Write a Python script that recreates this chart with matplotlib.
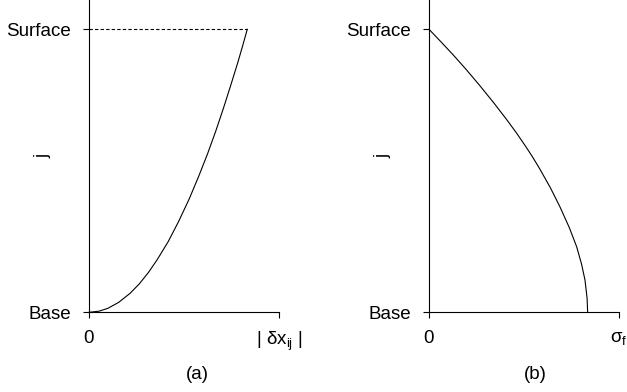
import matplotlib
matplotlib.use("Agg")
import matplotlib.pyplot as plt

plt.rcParams['font.family'] = ['Liberation Sans', 'DejaVu Sans']
plt.rcParams['mathtext.fontset'] = 'custom'
plt.rcParams['mathtext.rm'] = 'Liberation Sans'
plt.rcParams['mathtext.it'] = 'Liberation Sans'

# (a) displacement vs depth, x in units of the |dx_ij| tick
depth_a = [0, 0.004, 0.014, 0.035, 0.067, 0.10, 0.14, 0.185, 0.25, 0.32,
           0.40, 0.48, 0.56, 0.64, 0.72, 0.80, 0.88, 0.94, 1.0]
disp_a = [0, 0.053, 0.099, 0.156, 0.216, 0.264, 0.312, 0.358, 0.417, 0.471,
          0.527, 0.577, 0.624, 0.667, 0.707, 0.745, 0.782, 0.808, 0.833]

# (b) stress vs depth, x in units of the sigma_f tick
depth_b = [0, 0.05, 0.114, 0.17, 0.232, 0.30, 0.373, 0.44, 0.509, 0.55,
           0.59, 0.635, 0.679, 0.74, 0.803, 0.86, 0.909, 0.955, 1.0]
stress_b = [0.835, 0.832, 0.821, 0.803, 0.777, 0.738, 0.689, 0.639, 0.581,
            0.544, 0.505, 0.459, 0.411, 0.341, 0.265, 0.193, 0.128, 0.064, 0.0]

y_ticks = [0, 1]
y_labels = ['Base', 'Surface']
x_ticks = [0, 1]
xlabels_a = ['0', r'$|\ \mathrm{\delta x_{ij}}\ |$']
xlabels_b = ['0', r'$\mathrm{\sigma_f}$']

fig = plt.figure(figsize=(6.27, 3.92), dpi=100)
ax_a = fig.add_axes([89 / 627, 0.2033, 190 / 627, 0.7967])
ax_b = fig.add_axes([429 / 627, 0.2033, 190 / 627, 0.7967])

for ax, xl, panel, px in [(ax_a, xlabels_a, '(a)', 0.568), (ax_b, xlabels_b, '(b)', 0.558)]:
    ax.set_xlim(0, 1)
    ax.set_ylim(0, 1.1035)
    for s in ['top', 'right']:
        ax.spines[s].set_visible(False)
    for s in ['left', 'bottom']:
        ax.spines[s].set_linewidth(0.8)
        ax.spines[s].set_color('black')
    ax.set_xticks(x_ticks)
    ax.set_xticklabels(xl)
    ax.set_yticks(y_ticks)
    ax.set_yticklabels(y_labels)
    ax.tick_params(direction='out', length=4.3, width=0.8, pad=8.5, labelsize=13.5)
    ax.text(-0.24, 0.5, 'j', rotation=90, ha='center', va='center',
            fontsize=13.5, transform=ax.transAxes)
    ax.text(px, -0.2, panel, ha='center', va='center', fontsize=13.5,
            transform=ax.transAxes)

ax_a.plot(disp_a, depth_a, color='black', lw=0.8, clip_on=False)
ax_a.plot([0, disp_a[-1]], [1, 1], color='black', lw=0.8, ls=(0, (3, 2)))
ax_b.plot(stress_b, depth_b, color='black', lw=0.8, clip_on=False)

fig.savefig('out.png', dpi=100)
